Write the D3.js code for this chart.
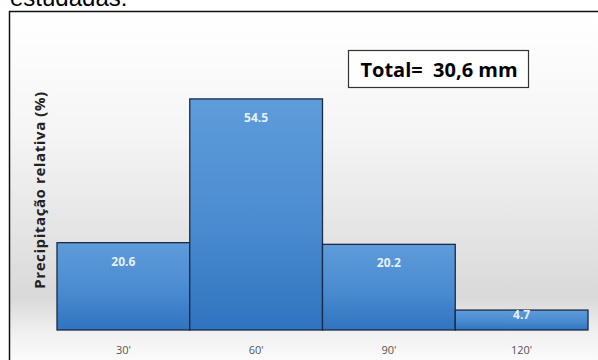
<!DOCTYPE html>
<html>
<head>
<meta charset="utf-8">
<script src="https://cdn.jsdelivr.net/npm/d3@7"></script>
<style>
  body { margin: 0; background: #fff; }
  svg { display: block; }
</style>
</head>
<body>
<script>
// dados do gráfico
var categorias = ["30'", "60'", "90'", "120'"];
var valores = [20.6, 54.5, 20.2, 4.7];
var rotulos = ["20.6", "54.5", "20.2", "4.7"];
var totalTexto = "Total=  30,6 mm";

var W = 598, H = 360;

var svg = d3.select("body").append("svg")
    .attr("width", W)
    .attr("height", H);

var defs = svg.append("defs");

// fundo do gráfico (branco -> cinza)
var fundo = defs.append("linearGradient").attr("id", "fundo")
    .attr("gradientUnits", "userSpaceOnUse")
    .attr("x1", 0).attr("y1", 12).attr("x2", 0).attr("y2", 360);
fundo.append("stop").attr("offset", "0%").attr("stop-color", "#ffffff");
fundo.append("stop").attr("offset", "35%").attr("stop-color", "#f5f5f5");
fundo.append("stop").attr("offset", "82%").attr("stop-color", "#d9d9d9");
fundo.append("stop").attr("offset", "92%").attr("stop-color", "#f0f0f0");
fundo.append("stop").attr("offset", "100%").attr("stop-color", "#fbfbfb");

// gradiente das barras
var barra = defs.append("linearGradient").attr("id", "barra")
    .attr("x1", 0).attr("y1", 0).attr("x2", 0).attr("y2", 1);
barra.append("stop").attr("offset", "0%").attr("stop-color", "#5e9cda");
barra.append("stop").attr("offset", "55%").attr("stop-color", "#4a8bd0");
barra.append("stop").attr("offset", "100%").attr("stop-color", "#2f74c0");

// texto cortado no topo
svg.append("text")
    .attr("x", 10).attr("y", 6)
    .style("font-family", "Liberation Sans, Arial, sans-serif")
    .style("font-size", "24px")
    .attr("fill", "#000")
    .text("estudadas:");

// área do gráfico
svg.append("rect")
    .attr("x", 9.5).attr("y", 11.5)
    .attr("width", 700).attr("height", 400)
    .attr("fill", "url(#fundo)")
    .attr("stroke", "#111")
    .attr("stroke-width", 1.5);

// escalas
var xScale = d3.scaleBand()
    .domain(categorias)
    .range([57, 588])
    .padding(0);

var yScale = d3.scaleLinear()
    .domain([0, 60])
    .range([330, 330 - 60 * 4.24]);

// barras
svg.selectAll("rect.bar")
    .data(valores)
    .enter().append("rect")
    .attr("class", "bar")
    .attr("x", (d, i) => xScale(categorias[i]))
    .attr("y", d => yScale(d))
    .attr("width", xScale.bandwidth())
    .attr("height", d => yScale(0) - yScale(d))
    .attr("fill", "url(#barra)")
    .attr("stroke", "#1c2a45")
    .attr("stroke-width", 1.3);

// rótulos das barras
svg.selectAll("text.valor")
    .data(valores)
    .enter().append("text")
    .attr("class", "valor")
    .attr("x", (d, i) => xScale(categorias[i]) + xScale.bandwidth() / 2)
    .attr("y", d => (yScale(0) - yScale(d) > 40) ? yScale(d) + 23 : yScale(d) + 9)
    .attr("text-anchor", "middle")
    .style("font-family", "Open Sans, sans-serif")
    .style("font-size", "12px")
    .style("font-weight", "bold")
    .attr("fill", "#e6f0fa")
    .text((d, i) => rotulos[i]);

// eixo x (só rótulos)
var eixoX = svg.append("g")
    .attr("transform", "translate(0,330)")
    .call(d3.axisBottom(xScale).tickSize(0).tickPadding(16));
eixoX.select(".domain").remove();
eixoX.selectAll("text")
    .style("font-family", "Open Sans, sans-serif")
    .style("font-size", "11px")
    .attr("fill", "#555");

// título do eixo y
svg.append("text")
    .attr("transform", "translate(45,190) rotate(-90)")
    .attr("text-anchor", "middle")
    .style("font-family", "Open Sans, sans-serif")
    .style("font-size", "15px")
    .style("font-weight", "bold")
    .style("letter-spacing", "0.6px")
    .attr("fill", "#222")
    .text("Precipitação relativa (%)");

// caixa do total
svg.append("rect")
    .attr("x", 348.5).attr("y", 50.5)
    .attr("width", 180).attr("height", 37)
    .attr("fill", "#fff")
    .attr("stroke", "#333")
    .attr("stroke-width", 1.2);
svg.append("text")
    .attr("x", 439).attr("y", 77)
    .attr("text-anchor", "middle")
    .style("font-family", "Open Sans, sans-serif")
    .style("font-size", "20px")
    .style("font-weight", "bold")
    .attr("fill", "#000")
    .style("white-space", "pre")
    .attr("xml:space", "preserve")
    .text(totalTexto);
</script>
</body>
</html>
